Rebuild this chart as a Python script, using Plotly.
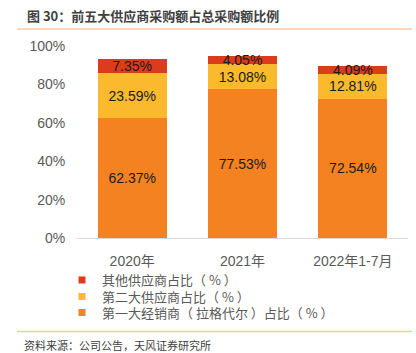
import plotly.graph_objects as go

categories = ["2020年", "2021年", "2022年1-7月"]
first_dist = [62.37, 77.53, 72.54]
second_sup = [23.59, 13.08, 12.81]
other_sup = [7.35, 4.05, 4.09]
names = ["第一大经销商（ 拉格代尔 ）占比（ % ）", "第二大供应商占比（ % ）", "其他供应商占比（ % ）"]
colors = ["#F58220", "#FBBA2E", "#DC3C1C"]
yticks = [0, 20, 40, 60, 80, 100]

FONT = "Liberation Sans, Noto Sans CJK SC, sans-serif"
CJK = "Noto Sans CJK SC, sans-serif"

W, H = 416, 353
L, R, T, B = 77, 8, 46, 115
PW, PH = W - L - R, H - T - B


def px_x(x):
    return (x - L) / PW


def px_y(y):
    return (H - B - y) / PH


fig = go.Figure()
for vals, name, col in zip([first_dist, second_sup, other_sup], names, colors):
    fig.add_trace(go.Bar(
        x=categories, y=vals, name=name, marker=dict(color=col, line=dict(width=0)),
        text=[f"{v:.2f}%" for v in vals], textposition="inside",
        insidetextanchor="middle", textfont=dict(color="#1a1a1a", size=14, family=FONT),
        hoverinfo="skip", showlegend=False,
    ))

# legend entries (small square markers), one legend per row
legend_rows = [(names[2], colors[2], 280), (names[1], colors[1], 296.5), (names[0], colors[0], 312.5)]
legend_ids = ["legend", "legend2", "legend3"]
legend_layouts = {}
for (name, col, ypx), lid in zip(legend_rows, legend_ids):
    fig.add_trace(go.Scatter(
        x=[categories[0]], y=[None], mode="markers", name=name,
        marker=dict(symbol="square", size=7, color=col), legend=lid, showlegend=True,
        hoverinfo="skip",
    ))
    legend_layouts[lid] = dict(
        x=px_x(62), xanchor="left", y=px_y(ypx), yanchor="middle",
        font=dict(size=13, color="#595959", family=CJK), itemwidth=30,
        bgcolor="rgba(0,0,0,0)", borderwidth=0,
    )

fig.update_layout(
    width=W, height=H, barmode="stack", bargap=0.373,
    margin=dict(l=L, r=R, t=T, b=B),
    plot_bgcolor="white", paper_bgcolor="white",
    font=dict(family=FONT, size=14, color="#595959"),
    uniformtext=dict(mode="show", minsize=14),
    showlegend=True,
    xaxis=dict(showline=True, linecolor="#d9d9d9", linewidth=1, showgrid=False,
               ticks="outside", ticklen=10, tickcolor="rgba(0,0,0,0)",
               tickfont=dict(size=14, color="#595959", family=FONT)),
    yaxis=dict(range=[0, 100], tickvals=yticks, ticktext=[f"{v}%" for v in yticks],
               showgrid=False, showline=False, zeroline=False,
               ticks="outside", ticklen=8, tickcolor="rgba(0,0,0,0)",
               tickfont=dict(size=14, color="#595959", family=FONT)),
    annotations=[
        dict(text="<b>图 30：前五大供应商采购额占总采购额比例</b>", xref="paper", yref="paper",
             x=px_x(25), y=px_y(15), xanchor="left", yanchor="middle", showarrow=False,
             font=dict(size=13, color="#404040", family=CJK)),
        dict(text="资料来源：公司公告，天风证券研究所", xref="paper", yref="paper",
             x=px_x(22), y=px_y(345), xanchor="left", yanchor="middle",
             showarrow=False, font=dict(size=11, color="#404040", family=CJK)),
    ],
    shapes=[
        dict(type="line", xref="paper", yref="paper", x0=px_x(17), x1=px_x(412),
             y0=px_y(29), y1=px_y(29), line=dict(color="#FAC9A0", width=1.5)),
        dict(type="line", xref="paper", yref="paper", x0=px_x(17), x1=px_x(412),
             y0=px_y(331.5), y1=px_y(331.5), line=dict(color="#FAC9A0", width=1.5)),
    ],
    **legend_layouts,
)

fig.write_html("out.html")
